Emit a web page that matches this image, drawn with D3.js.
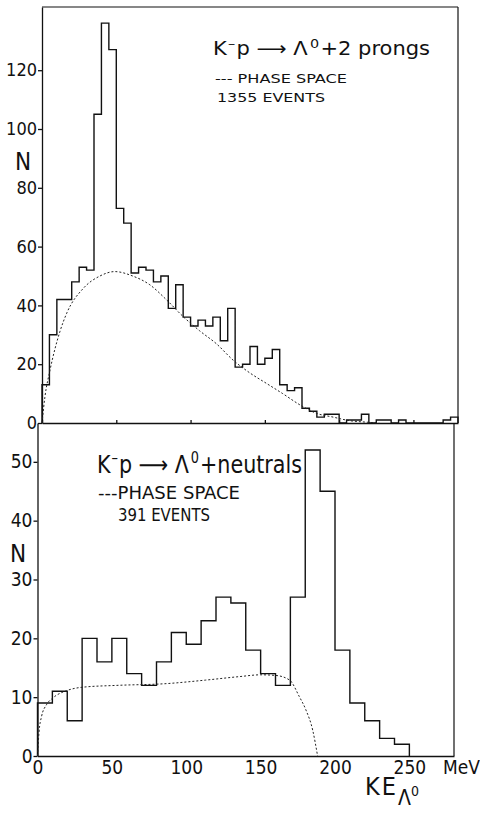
<!DOCTYPE html>
<html>
<head>
<meta charset="utf-8">
<script src="https://cdn.jsdelivr.net/npm/d3@7/dist/d3.min.js"></script>
<style>
  body { margin: 0; background: #fff; }
  svg text { font-family: "Liberation Sans Narrow", "DejaVu Sans Condensed", "Liberation Sans", sans-serif; fill: #111; }
</style>
</head>
<body>
<svg id="chart"></svg>
<script>
// ---- data ----

// top: K-p -> Lambda0 + 2 prongs, 5 MeV bins starting at 0
let topCounts = [13, 30, 42, 42, 48, 53, 52, 105, 136, 127,
  73, 68, 51, 53, 52, 48, 50, 39, 47, 36,
  33, 35, 33, 36, 28, 39, 19, 20, 26, 20,
  22, 25, 13, 11, 12, 5, 4, 2, 3, 3,
  0, 1, 1, 3, 0, 1, 1, 0, 1, 0,
  0, 0, 0, 0, 1, 2];
let topBin = 5;
let topPhaseKE = [0, 2, 5.4, 12, 16.6, 27.8, 39, 49, 61, 72.6, 84, 95, 106, 117.5, 128.6, 140, 151, 162, 173.5, 184.7, 196, 207, 218, 227];
let topPhaseN = [0, 9, 18, 31, 37.3, 45.8, 50, 51.5, 50, 47, 41.8, 36.2, 31.4, 26.9, 21.4, 17, 13.5, 10, 6.2, 3.3, 2, 0.8, 0.3, 0];
let topTicks = [0, 20, 40, 60, 80, 100, 120];

// bottom: K-p -> Lambda0 + neutrals, 10 MeV bins starting at 0
let botCounts = [9, 11, 6, 20, 16, 20, 14, 12, 16, 21,
  19, 23, 27, 26, 18, 14, 12, 27, 52, 45,
  18, 9, 6, 3, 2];
let botBin = 10;
let botPhaseKE = [0, 1, 2.7, 6, 10.5, 19.5, 30.6, 53, 86.6, 113, 136, 150, 160, 169.5, 176, 180.5, 185, 188.3];
let botPhaseN = [0, 4, 6.7, 8.7, 9.9, 11.1, 11.7, 12, 12.3, 12.9, 13.5, 13.8, 13.7, 12.9, 10.1, 7.8, 4.4, 0];
let botTicks = [0, 10, 20, 30, 40, 50];
let keTicks = [0, 50, 100, 150, 200, 250];

let width = 480;
let height = 813;
let keMax = 280;

let svg = d3.select("#chart")
    .attr("width", width)
    .attr("height", height);

// scales (scan is slightly skewed, so the two panels sit a few px apart)
let xTop = d3.scaleLinear().domain([0, keMax]).range([42, 458]);
let yTop = d3.scaleLinear().domain([0, 141.5]).range([423, 7]);
let xBot = d3.scaleLinear().domain([0, keMax]).range([37.5, 454]);
let yBot = d3.scaleLinear().domain([0, 56.6]).range([756, 423]);

function histPoints(counts, bin) {
    let pts = [[0, 0]];
    counts.forEach((c, i) => pts.push([i * bin, c]));
    let end = counts.length * bin;
    pts.push([end, counts[counts.length - 1]]);
    pts.push([end, 0]);
    return pts;
}

function styleAxis(g, size) {
    g.selectAll("path, line").attr("stroke", "#111").attr("stroke-width", 1.3);
    g.selectAll("text").attr("font-size", size).attr("fill", "#111");
    g.attr("font-family", null);
}

// reaction title with superscript minus and zero
function title(sel, x, y, size, sup, shift, tail) {
    let t = sel.append("text")
        .attr("x", x).attr("y", y)
        .attr("font-size", size);
    t.append("tspan").text("K");
    t.append("tspan").attr("dx", 1).attr("dy", -shift).attr("font-size", sup).text("\u2013");
    t.append("tspan").attr("dx", 1).attr("dy", shift).text("p \u27F6 \u039B");
    t.append("tspan").attr("dx", 2).attr("dy", -shift).attr("font-size", sup).text("0");
    t.append("tspan").attr("dx", 1).attr("dy", shift).text(tail);
    return t;
}

// ---- top panel ----
let topPanel = svg.append("g");

topPanel.append("g")
    .attr("transform", `translate(${xTop(0)}, 0)`)
    .call(d3.axisLeft(yTop).tickValues(topTicks).tickSizeInner(4).tickSizeOuter(0).tickPadding(1))
    .call(g => styleAxis(g, 18));

topPanel.append("g")
    .attr("transform", `translate(0, ${yTop(0)})`)
    .call(d3.axisBottom(xTop).tickValues(keTicks).tickSizeInner(-3).tickSizeOuter(0).tickFormat(""))
    .call(g => styleAxis(g, 18));

// frame top and right
topPanel.append("line")
    .attr("x1", xTop(0)).attr("x2", xTop(keMax))
    .attr("y1", yTop.range()[1]).attr("y2", yTop.range()[1])
    .attr("stroke", "#111").attr("stroke-width", 1.2);
topPanel.append("line")
    .attr("x1", xTop(keMax)).attr("x2", xTop(keMax))
    .attr("y1", yTop.range()[1]).attr("y2", yTop(0))
    .attr("stroke", "#111").attr("stroke-width", 1.2);

topPanel.append("path")
    .datum(histPoints(topCounts, topBin))
    .attr("fill", "none")
    .attr("stroke", "#111")
    .attr("stroke-width", 1.4)
    .attr("d", d3.line().curve(d3.curveStepAfter).x(d => xTop(d[0])).y(d => yTop(d[1])));

topPanel.append("path")
    .datum(topPhaseKE.map((k, i) => [k, topPhaseN[i]]))
    .attr("fill", "none")
    .attr("stroke", "#222")
    .attr("stroke-width", 1)
    .attr("stroke-dasharray", "2,2")
    .attr("d", d3.line().curve(d3.curveMonotoneX).x(d => xTop(d[0])).y(d => yTop(d[1])));

topPanel.append("text")
    .attr("x", 15).attr("y", 170)
    .attr("font-size", 24)
    .text("N");

// legend, top
title(topPanel, 213, 55, 19, 13, 7, "+2 prongs")
    .attr("textLength", 217)
    .attr("lengthAdjust", "spacingAndGlyphs");

topPanel.append("text")
    .attr("x", 215).attr("y", 83)
    .attr("font-size", 13)
    .attr("textLength", 132)
    .attr("lengthAdjust", "spacingAndGlyphs")
    .text("---  PHASE  SPACE");

topPanel.append("text")
    .attr("x", 217).attr("y", 102)
    .attr("font-size", 13)
    .attr("textLength", 108)
    .attr("lengthAdjust", "spacingAndGlyphs")
    .text("1355  EVENTS");

// ---- bottom panel ----
let botPanel = svg.append("g");

botPanel.append("g")
    .attr("transform", `translate(${xBot(0)}, 0)`)
    .call(d3.axisLeft(yBot).tickValues(botTicks).tickSizeInner(4).tickSizeOuter(0).tickPadding(1))
    .call(g => styleAxis(g, 19));

botPanel.append("g")
    .attr("transform", `translate(0, ${yBot(0)})`)
    .call(d3.axisBottom(xBot).tickValues(keTicks).tickSize(0).tickPadding(5))
    .call(g => styleAxis(g, 19));

botPanel.append("line")
    .attr("x1", xBot(keMax)).attr("x2", xBot(keMax))
    .attr("y1", yBot.range()[1]).attr("y2", yBot(0))
    .attr("stroke", "#111").attr("stroke-width", 1.2);

botPanel.append("path")
    .datum(histPoints(botCounts, botBin))
    .attr("fill", "none")
    .attr("stroke", "#111")
    .attr("stroke-width", 1.4)
    .attr("d", d3.line().curve(d3.curveStepAfter).x(d => xBot(d[0])).y(d => yBot(d[1])));

botPanel.append("path")
    .datum(botPhaseKE.map((k, i) => [k, botPhaseN[i]]))
    .attr("fill", "none")
    .attr("stroke", "#222")
    .attr("stroke-width", 1)
    .attr("stroke-dasharray", "2,2")
    .attr("d", d3.line().curve(d3.curveMonotoneX).x(d => xBot(d[0])).y(d => yBot(d[1])));

botPanel.append("text")
    .attr("x", 10).attr("y", 562)
    .attr("font-size", 24)
    .text("N");

// legend, bottom
title(botPanel, 97, 473, 24, 15, 10, "+neutrals")
    .attr("textLength", 205)
    .attr("lengthAdjust", "spacingAndGlyphs");

botPanel.append("text")
    .attr("x", 98).attr("y", 499)
    .attr("font-size", 17)
    .attr("textLength", 142)
    .attr("lengthAdjust", "spacingAndGlyphs")
    .text("---PHASE  SPACE");

botPanel.append("text")
    .attr("x", 118).attr("y", 521)
    .attr("font-size", 17)
    .attr("textLength", 92)
    .attr("lengthAdjust", "spacingAndGlyphs")
    .text("391 EVENTS");

// x axis label and unit
botPanel.append("text")
    .attr("x", 443).attr("y", 774)
    .attr("font-size", 19)
    .text("MeV");

let ke = botPanel.append("text")
    .attr("x", 365).attr("y", 795)
    .attr("font-size", 25)
    .attr("letter-spacing", 2);
ke.append("tspan").text("KE");
ke.append("tspan").attr("dy", 10).attr("font-size", 21).attr("letter-spacing", 0).text("\u039B");
ke.append("tspan").attr("dy", -9).attr("font-size", 14).attr("letter-spacing", 0).text("0");
</script>
</body>
</html>
